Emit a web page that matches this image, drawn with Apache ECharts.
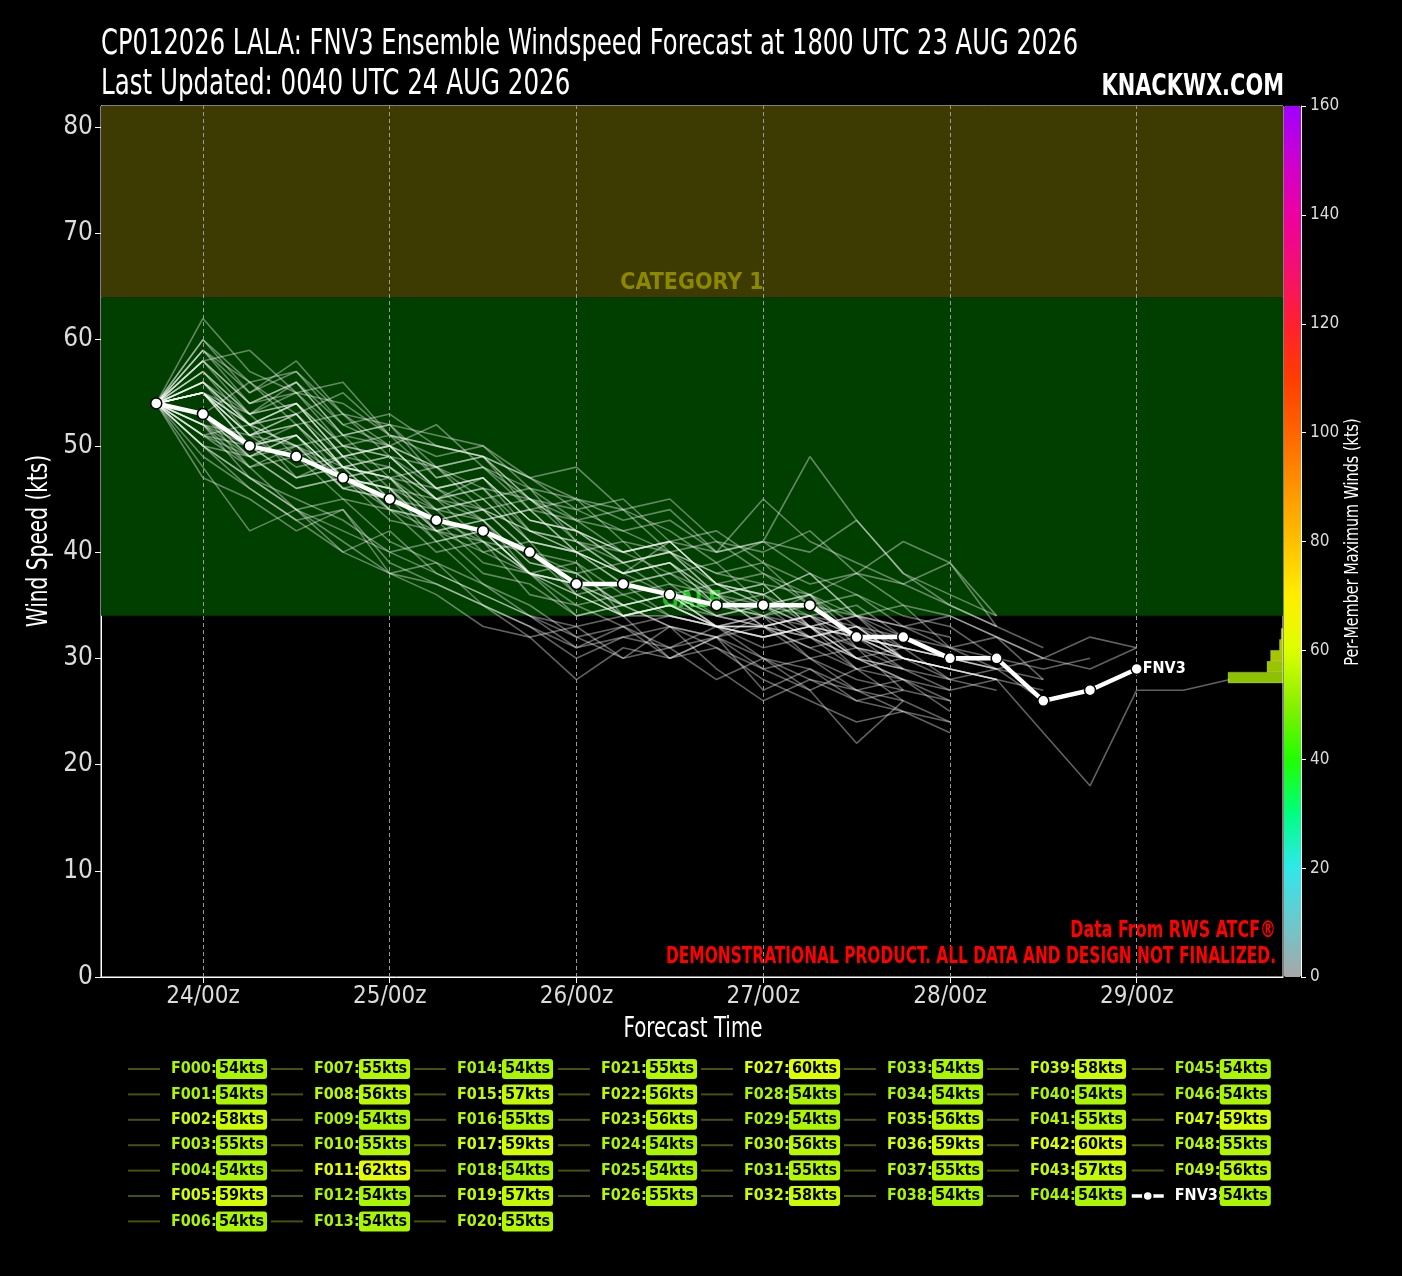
<!DOCTYPE html>
<html><head><meta charset="utf-8">
<script src="https://cdn.jsdelivr.net/npm/echarts@6/dist/echarts.min.js"></script>
<style>html,body{margin:0;padding:0;background:#000}#c{width:1402px;height:1276px}</style>
</head><body><div id="c"></div>
<script>
// ---------------- DATA ----------------
// forecast hours relative to 24/00z; member values are every 6 h starting 23/18z (-6 h)
const startHour = -6;
const stepHours = 6;
const dayTicks = [0, 24, 48, 72, 96, 120];
const dayLabels = ['24/00z', '25/00z', '26/00z', '27/00z', '28/00z', '29/00z'];

const fnv3Winds = [54,53,50,49,47,45,43,42,40,37,37,36,35,35,35,32,32,30,30,26,27,29];

const memberNames = ['F000','F001','F002','F003','F004','F005','F006','F007','F008','F009',
  'F010','F011','F012','F013','F014','F015','F016','F017','F018','F019',
  'F020','F021','F022','F023','F024','F025','F026','F027','F028','F029',
  'F030','F031','F032','F033','F034','F035','F036','F037','F038','F039',
  'F040','F041','F042','F043','F044','F045','F046','F047','F048','F049'];

// per-member maximum winds (kts) as printed in the legend
const memberMax = [54,54,58,55,54,59,54,55,56,54,
  55,62,54,54,54,57,55,59,54,57,
  55,55,56,56,54,54,55,60,54,54,
  56,55,58,54,54,56,59,55,54,58,
  54,55,60,57,54,54,54,59,55,56];
const fnv3Max = 54;

const memberWinds = [
  [54,52,49,51,47,46,44,43,39,38,35,36,33,34,33,32,30,29,28],
  [54,51,50,47,48,44,43,41,40,36,34,34,33,32,33,30,29,27],
  [54,58,53,56,52,50,48,49,45,43,44,40,38,37,36,38,41,39,34],
  [54,55,51,52,48,47,48,44,42,40,37,38,35,34,36,31,30,29],
  [54,50,47,44,45,41,39,37,34,31,33,30,32,29,30,27,28,25],
  [54,59,54,56,51,52,47,48,45,42,40,41,37,36,38,34,35,31,32,28],
  [54,53,50,51,46,47,43,42,38,36,37,34,33,33,32,30,28,26],
  [54,55,51,53,48,49,45,46,41,40,38,36,37,35,33,32,30],
  [54,56,52,54,49,50,46,44,45,41,38,39,36,33,34,31,29,28,27],
  [54,47,45,42,44,38,37,35,33,30,32,31,28,30,27,29,26],
  [54,55,53,49,50,46,45,41,38,39,34,35,33,32,33,29],
  [54,62,57,55,54,51,50,49,47,44,42,43,40,41,38,36,34,33,30],
  [54,51,48,44,42,40,38,36,34,32,33,31,33,30,29,27,26],
  [54,52,50,47,49,45,43,42,38,37,34,35,33,33,34,32,31,30,29,28],
  [54,53,48,50,46,45,44,40,38,34,35,33,32,34,30,31,27],
  [54,57,53,55,50,51,47,48,44,45,41,40,38,39,35,36,33,34,32,30,29,31],
  [54,55,50,52,47,48,44,45,41,40,38,39,35,34,32,33,30,29],
  [54,59,55,58,53,50,52,48,46,45,44,42,39,41,40,43,38,36,34],
  [54,48,42,44,40,38,36,33,32,28,31,30,32,27,29,26,25,23],
  [54,57,52,54,50,49,45,47,43,42,39,40,36,37,33,34,31],
  [54,55,50,51,47,46,42,40,41,36,34,35,33,33,31,29,30],
  [54,55,52,50,51,47,46,43,44,40,41,37,36,37,33,34,30,29,28,27],
  [54,56,51,53,49,48,45,46,42,40,38,39,35,36,33,31,30],
  [54,53,56,52,53,49,48,45,46,41,40,38,39,35,36,32,31,30,29],
  [54,50,49,46,47,43,42,38,37,34,35,33,32,33,30,28,27],
  [54,52,47,45,43,40,41,37,35,32,30,33,31,28,26,24,25],
  [54,55,51,50,48,47,44,45,41,40,37,38,36,33,34,32,30,29,28],
  [54,60,55,57,52,53,50,49,45,44,45,41,42,39,37,38,35,34,32,30],
  [54,51,52,47,48,44,43,39,38,35,36,34,33,32,33,30],
  [54,49,46,43,40,42,38,36,34,33,34,30,31,29,27,22,26,24],
  [54,56,53,54,49,50,46,47,43,42,40,41,37,36,38,34,33,32],
  [54,55,52,50,47,48,45,43,44,40,38,41,40,41,49,43,38,35,33],
  [54,58,54,56,51,52,48,49,44,43,40,41,37,38,35,34,32,31,29,30,32,31],
  [54,53,49,50,46,45,41,42,38,36,34,35,34,33,34,30,29],
  [54,50,47,44,41,38,39,35,33,31,32,33,29,26,28,27,25,24],
  [54,56,52,53,48,49,45,44,42,41,38,39,36,34,35,32,31],
  [54,58,59,55,56,51,50,49,47,45,43,44,40,45,41,39,37,39,33],
  [54,55,51,52,48,47,42,43,39,38,35,36,34,33,32,33,30,28],
  [54,52,51,48,49,45,43,44,40,38,39,36,34,35,32,30,31,28,29,26],
  [54,58,54,55,51,50,48,46,45,42,40,41,37,36,34,35,32,30],
  [54,51,49,46,47,44,42,41,38,37,35,36,33,32,33,30,28,27,28,23,18,27,27,28],
  [54,55,50,51,47,46,41,42,38,37,34,35,33,33,31,32,29],
  [54,60,56,57,53,52,51,50,47,48,44,45,41,40,42,38,37,35,33,31],
  [54,57,53,54,50,49,46,47,43,42,39,40,37,35,36,33,31,30],
  [54,52,48,49,45,44,40,41,36,35,33,34,33,31,32,29,28],
  [54,50,46,43,44,39,37,35,32,33,30,31,32,30,28,26,27,26],
  [54,53,49,51,47,46,42,43,38,37,35,36,33,34,32,33,30,29,28],
  [54,59,56,53,55,51,49,50,46,43,42,40,41,38,36,34,33,31,30,29,30],
  [54,55,52,53,48,47,43,44,40,39,36,37,34,35,33,32,31,30],
  [54,56,52,54,49,50,46,47,42,41,39,40,36,35,34,33,32,30,29]
];

const bands = [
  {name: 'GALE', from: 34, to: 64},
  {name: 'CATEGORY 1', from: 64, to: 82}
];

const titleLine1 = 'CP012026 LALA: FNV3 Ensemble Windspeed Forecast at 1800 UTC 23 AUG 2026';
const titleLine2 = 'Last Updated: 0040 UTC 24 AUG 2026';
const brandText = 'KNACKWX.COM';
const creditText = 'Data From RWS ATCF®';
const disclaimerText = 'DEMONSTRATIONAL PRODUCT. ALL DATA AND DESIGN NOT FINALIZED.';

// ---------------- STYLE ----------------
const FF = "'DejaVu Sans Condensed','DejaVu Sans',sans-serif";
const cmapStops = ['#a8a8a8','#6cc8cc','#30e8ec','#00ff80','#20ff00','#88f000','#ddff00','#ffee00',
  '#ffc000','#ff9400','#ff6400','#ff3c00','#ff2030','#f41070','#ee00a0','#cc00d0','#a000ff'];
function hex2rgb(h){return [parseInt(h.substr(1,2),16),parseInt(h.substr(3,2),16),parseInt(h.substr(5,2),16)];}
function cmap(v){
  const t = Math.max(0, Math.min(160, v)) / 10;
  const i = Math.min(15, Math.floor(t)), f = t - i;
  const a = hex2rgb(cmapStops[i]), b = hex2rgb(cmapStops[i+1]);
  const c = a.map((x,k)=>Math.round(x + (b[k]-x)*f));
  return 'rgb(' + c.join(',') + ')';
}

const toXY = arr => arr.map((v,j)=>[startHour + stepHours*j, v]);

// histogram of per-member maxima, 2-kt bins
const binCounts = {};
memberMax.forEach(m => { const lo = Math.floor(m/2)*2; binCounts[lo] = (binCounts[lo]||0) + 1; });
const histData = Object.keys(binCounts).map(k => { const lo = +k; return [lo, lo+2, binCounts[k], lo+1]; });

// legend rich styles
const LFS = 16;
const rich = {};
memberMax.concat([fnv3Max]).forEach(m => {
  rich['l'+m] = {color: cmap(m), fontFamily: FF, fontSize: LFS, fontWeight: 'bold', width: 45, padding: [0,0,0,6], lineHeight: 17};
  rich['b'+m] = {color: '#000', backgroundColor: cmap(m), fontFamily: FF, fontSize: LFS, fontWeight: 'bold',
                 borderRadius: 3, padding: [2,3,2,3], lineHeight: 17};
});
rich.lw = {color: '#fff', fontFamily: FF, fontSize: LFS, fontWeight: 'bold', width: 45, padding: [0,0,0,6], lineHeight: 17};

const nameIdx = {};
memberNames.forEach((n,i)=>nameIdx[n]=i);
function legendFmt(name){
  if (name === 'FNV3') return '{lw|FNV3:}{b' + fnv3Max + '|' + fnv3Max + 'kts}';
  const m = memberMax[nameIdx[name]];
  return '{l' + m + '|' + name + ':}{b' + m + '|' + m + 'kts}';
}

const legendCols = [
  memberNames.slice(0,7), memberNames.slice(7,14), memberNames.slice(14,21),
  memberNames.slice(21,27), memberNames.slice(27,33), memberNames.slice(33,39),
  memberNames.slice(39,45), memberNames.slice(45,50).concat(['FNV3'])
];
const colLeft = [127, 270, 413, 557, 700, 843, 986, 1130];
const legends = legendCols.map((col, ci) => ({
  show: true, orient: 'vertical', left: colLeft[ci], top: 1059, padding: 0,
  itemWidth: 32, itemHeight: 12, itemGap: 5.4, selectedMode: false,
  formatter: legendFmt,
  textStyle: {rich: rich, fontFamily: FF, fontSize: LFS},
  data: col.map(n => n === 'FNV3' ? {name: n, lineStyle: {width: 3.5}} :
        {name: n, lineStyle: {color: '#42520f', width: 2}, itemStyle: {color: 'rgba(0,0,0,0)', borderWidth: 0, opacity: 0}})
}));

// ---------------- SERIES ----------------
const series = [];
series.push({
  name: 'bands', type: 'line', data: [], xAxisIndex: 0, yAxisIndex: 0, z: 1, silent: true,
  markArea: {
    silent: true,
    data: [
      [{yAxis: bands[0].from, itemStyle: {color: '#003f00'},
        label: {show: true, position: 'insideBottom', distance: 3, formatter: bands[0].name, color: '#1fc01f',
                fontFamily: FF, fontSize: 23, fontWeight: 'bold'}}, {yAxis: bands[0].to}],
      [{yAxis: bands[1].from, itemStyle: {color: '#3d3a02'},
        label: {show: true, position: 'insideBottom', distance: 3, formatter: bands[1].name, color: '#8c8800',
                fontFamily: FF, fontSize: 23, fontWeight: 'bold'}}, {yAxis: bands[1].to}]
    ]
  },
  markLine: {
    silent: true, symbol: ['none','none'], label: {show: false},
    lineStyle: {color: '#9a9a9a', type: [4,3], width: 1},
    data: dayTicks.map(h => ({xAxis: h}))
  }
});
memberWinds.forEach((w, i) => {
  series.push({
    name: memberNames[i], type: 'line', data: toXY(w), xAxisIndex: 0, yAxisIndex: 0,
    symbol: 'none', showSymbol: false, silent: true, z: 3,
    lineStyle: {color: 'rgba(255,255,255,0.38)', width: 1.6},
    itemStyle: {color: 'rgba(255,255,255,0.38)'},
    emphasis: {disabled: true}
  });
});
series.push({
  name: 'FNV3', type: 'line', data: toXY(fnv3Winds), xAxisIndex: 0, yAxisIndex: 0, z: 5,
  symbol: 'circle', symbolSize: 11, showSymbol: true, silent: true,
  lineStyle: {color: '#fff', width: 4.5},
  itemStyle: {color: '#fff', borderColor: '#000', borderWidth: 1.5},
  endLabel: {show: true, formatter: 'FNV3', color: '#fff', fontFamily: FF, fontSize: 16, fontWeight: 'bold', distance: 6},
  emphasis: {disabled: true}
});
const histSeriesIndex = series.length;
series.push({
  name: 'hist', type: 'custom', xAxisIndex: 1, yAxisIndex: 1, z: 4, silent: true,
  data: histData, encode: {x: 2, y: [0, 1]},
  renderItem: function(params, api){
    const lo = api.value(0), hi = api.value(1), c = api.value(2);
    const p1 = api.coord([c, hi]), p2 = api.coord([0, lo]);
    return {type: 'rect',
      shape: {x: Math.min(p1[0], p2[0]), y: p1[1], width: Math.abs(p2[0]-p1[0]), height: p2[1]-p1[1]},
      style: {fill: api.visual('color'), opacity: 0.78, stroke: 'rgba(255,255,255,0.25)', lineWidth: 1}};
  }
});

// text drawn condensed (scaled horizontally) to imitate the narrow display face
function ctext(text, x, y, size, weight, color, align, sx, rot){
  return {type: 'text', x: x, y: y, scaleX: sx, rotation: rot || 0, silent: true, z: 100,
    style: {text: text, fill: color, font: weight + ' ' + size + 'px ' + FF,
            textAlign: align, align: align, textVerticalAlign: 'middle', verticalAlign: 'middle'}};
}

const option = {
  backgroundColor: '#000',
  animation: false,
  textStyle: {fontFamily: FF},
  graphic: {elements: [
    ctext(titleLine1, 101, 45, 35, 'normal', '#fff', 'left', 0.77),
    ctext(titleLine2, 101, 85, 35, 'normal', '#fff', 'left', 0.78),
    ctext(brandText, 1284, 87, 31, 'bold', '#fff', 'right', 0.75),
    ctext(creditText, 1276, 931, 23, 'bold', '#ff0000', 'right', 0.77),
    ctext(disclaimerText, 1276, 957, 23, 'bold', '#ff0000', 'right', 0.745),
    ctext('Forecast Time', 693, 1030, 28, 'normal', '#fff', 'center', 0.79),
    ctext('Wind Speed (kts)', 40, 541, 28, 'normal', '#fff', 'center', 0.8, Math.PI/2),
    ctext('Per-Member Maximum Winds (kts)', 1353, 542, 20, 'normal', '#fff', 'center', 0.8, Math.PI/2)
  ]},
  legend: legends,
  grid: [
    {left: 101, top: 106, width: 1182, height: 871, show: true, borderColor: '#fff', borderWidth: 1, backgroundColor: 'transparent'},
    {left: 1183, top: 106, width: 100, height: 871, show: false}
  ],
  visualMap: [{
    type: 'continuous', show: true, min: 0, max: 160, seriesIndex: histSeriesIndex, dimension: 3,
    left: 1284, top: 106, itemWidth: 17, itemHeight: 871, padding: 0, calculable: false,
    text: null, showLabel: false, borderWidth: 0,
    inRange: {color: cmapStops}
  }],
  xAxis: [
    {type: 'value', gridIndex: 0, min: -13.1, max: 138.8,
     axisLine: {show: true, onZero: false, lineStyle: {color: '#fff', width: 1}},
     axisTick: {show: true, customValues: dayTicks, length: 6, lineStyle: {color: '#fff'}},
     axisLabel: {show: true, customValues: dayTicks, color: '#dcdcdc', fontFamily: FF, fontSize: 24, margin: 8,
                 formatter: v => dayLabels[dayTicks.indexOf(v)] || ''},
     splitLine: {show: false}},
    {type: 'value', gridIndex: 1, min: 0, max: 56.4, inverse: true, show: false, splitLine: {show: false}}
  ],
  yAxis: [
    {type: 'value', gridIndex: 0, min: 0, max: 82, interval: 10,
     axisLine: {show: true, onZero: false, lineStyle: {color: '#fff', width: 1}},
     axisTick: {show: true, length: 6, inside: false, lineStyle: {color: '#fff'}},
     axisLabel: {color: '#dcdcdc', fontFamily: FF, fontSize: 26, margin: 8, showMaxLabel: false,
                 formatter: v => (v % 10 === 0 ? String(v) : '')},
     splitLine: {show: false}},
    {type: 'value', gridIndex: 1, min: 0, max: 160, interval: 20, position: 'right', offset: 18,
     axisLine: {show: true, onZero: false, lineStyle: {color: '#fff', width: 1}},
     axisTick: {show: true, length: 5, lineStyle: {color: '#fff'}},
     axisLabel: {color: '#dcdcdc', fontFamily: FF, fontSize: 17, margin: 9},
     splitLine: {show: false}}
  ],
  series: series
};

const chart = echarts.init(document.getElementById('c'), null, {renderer: 'canvas'});
chart.setOption(option);
</script></body></html>
